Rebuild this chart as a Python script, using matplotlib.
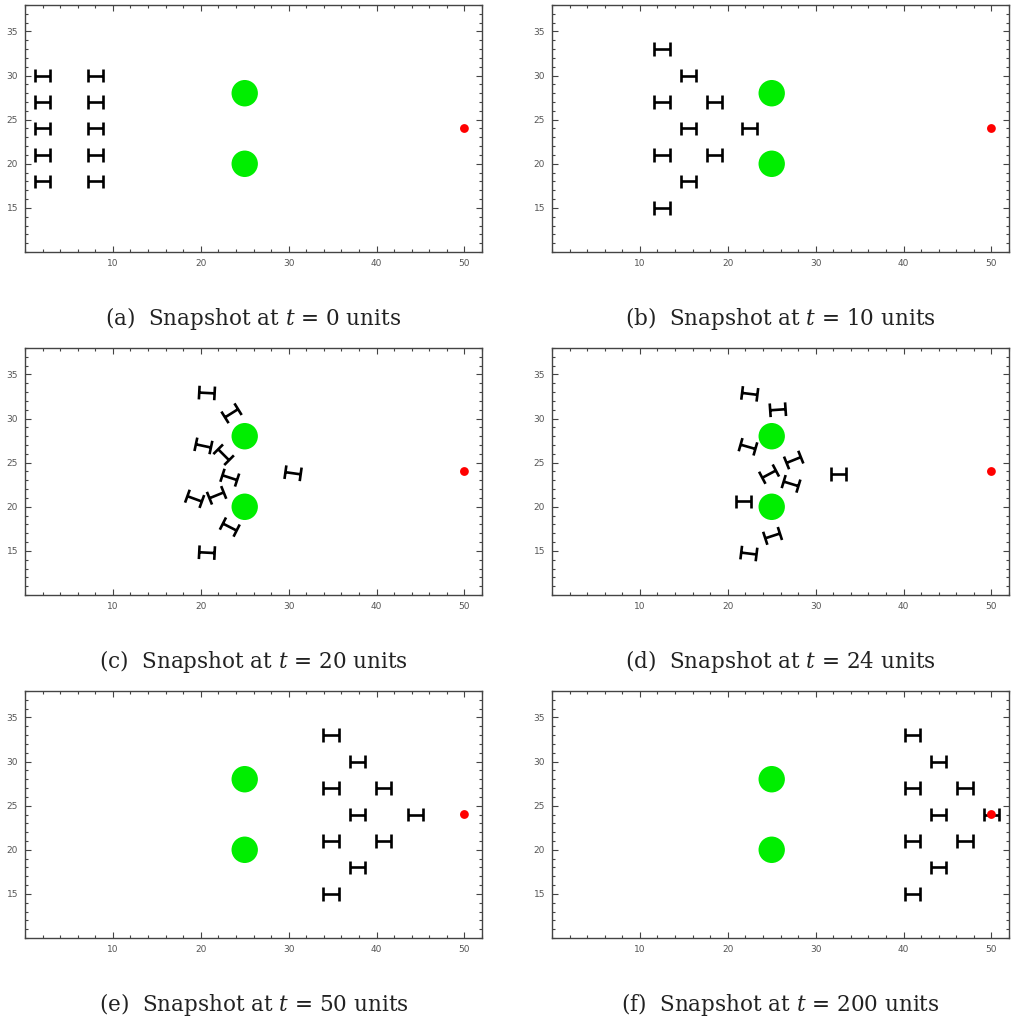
import matplotlib
matplotlib.use("Agg")
import matplotlib.pyplot as plt
from matplotlib.path import Path
from matplotlib.patches import PathPatch, Circle
from matplotlib.transforms import Affine2D
from matplotlib.ticker import MultipleLocator
import numpy as np

plt.rcParams['mathtext.fontset'] = 'dejavuserif'

# obstacles and target
obstacle_x = [25, 25]
obstacle_y = [28, 20]
target_x = [50]
target_y = [24]

# robot poses per snapshot (x, y, heading in degrees)
a_x = [2, 2, 2, 2, 2, 8, 8, 8, 8, 8]
a_y = [30, 27, 24, 21, 18, 30, 27, 24, 21, 18]
a_ang = [0] * 10

b_x = [12.5, 15.5, 12.5, 18.5, 15.5, 22.5, 12.5, 18.5, 15.5, 12.5]
b_y = [33, 30, 27, 27, 24, 24, 21, 21, 18, 15]
b_ang = [0] * 10

c_x = [20.7, 23.5, 20.3, 22.6, 23.3, 19.3, 21.8, 23.3, 20.7, 30.5]
c_y = [32.9, 30.6, 26.9, 25.9, 23.3, 20.9, 21.3, 17.7, 14.8, 23.8]
c_ang = [-3, 32, -12, -45, -18, -20, 22, -27, -3, -8]

d_x = [22.5, 25.7, 22.3, 27.5, 24.7, 27.2, 21.8, 25.1, 22.4, 32.6]
d_y = [32.8, 31.0, 26.8, 25.3, 23.7, 22.6, 20.6, 16.7, 14.7, 23.7]
d_ang = [-7, 4, -16, 22, 28, -17, 0, 18, -7, 0]

e_x = [34.8, 37.8, 34.8, 40.8, 37.8, 44.4, 34.8, 40.8, 37.8, 34.8]
e_y = [33, 30, 27, 27, 24, 24, 21, 21, 18, 15]
e_ang = [0] * 10

f_x = [41, 44, 41, 47, 44, 50, 41, 47, 44, 41]
f_y = [33, 30, 27, 27, 24, 24, 21, 21, 18, 15]
f_ang = [0] * 10

labels = ['(a)', '(b)', '(c)', '(d)', '(e)', '(f)']
times = [0, 10, 20, 24, 50, 200]
snapshots = [(a_x, a_y, a_ang), (b_x, b_y, b_ang), (c_x, c_y, c_ang),
             (d_x, d_y, d_ang), (e_x, e_y, e_ang), (f_x, f_y, f_ang)]

# robot glyph: bar with end caps (I-beam lying on its side)
W, Hc = 1.75, 1.55
robot_path = Path([(-W / 2, 0), (W / 2, 0),
                   (-W / 2, -Hc / 2), (-W / 2, Hc / 2),
                   (W / 2, -Hc / 2), (W / 2, Hc / 2)],
                  [Path.MOVETO, Path.LINETO, Path.MOVETO, Path.LINETO,
                   Path.MOVETO, Path.LINETO])

fig = plt.figure(figsize=(10.14, 10.21), dpi=100)
FW, FH = 1014, 1021
lefts = [25, 552]
tops = [5, 348, 691]
aw, ah = 457, 247

for i, (xs, ys, angs) in enumerate(snapshots):
    row, col = divmod(i, 2)
    l, t = lefts[col], tops[row]
    ax = fig.add_axes([l / FW, 1 - (t + ah) / FH, aw / FW, ah / FH])
    ax.set_xlim(0, 52)
    ax.set_ylim(10, 38)

    for ox, oy in zip(obstacle_x, obstacle_y):
        ax.add_patch(Circle((ox, oy), 1.5, color='#00ee00', lw=0, zorder=2))
    for tx, ty in zip(target_x, target_y):
        ax.add_patch(Circle((tx, ty), 0.5, color='#ff0000', lw=0, zorder=4))

    for x, y, a in zip(xs, ys, angs):
        tr = Affine2D().rotate_deg(a).translate(x, y) + ax.transData
        ax.add_patch(PathPatch(robot_path, transform=tr, fill=False,
                               ec='black', lw=1.9, capstyle='butt', zorder=3))

    ax.xaxis.set_major_locator(MultipleLocator(10))
    ax.xaxis.set_minor_locator(MultipleLocator(2))
    ax.yaxis.set_major_locator(MultipleLocator(5))
    ax.yaxis.set_minor_locator(MultipleLocator(1))
    ax.tick_params(which='both', direction='in', top=True, right=True,
                   color='#444444', width=0.8, labelsize=6.5,
                   labelcolor='#555555', pad=5)
    ax.tick_params(which='major', length=4)
    ax.tick_params(which='minor', length=2.5)
    ax.set_xticks([10, 20, 30, 40, 50])
    ax.set_yticks([15, 20, 25, 30, 35])
    for s in ax.spines.values():
        s.set_color('#444444')
        s.set_linewidth(1.0)

    ax.text(0.5, -0.27, labels[i] + '  Snapshot at $t$ = ' + str(times[i]) + ' units',
            transform=ax.transAxes, ha='center', va='center',
            fontsize=15.5, family='DejaVu Serif', color='#222222')

fig.savefig('out.png', dpi=100)
